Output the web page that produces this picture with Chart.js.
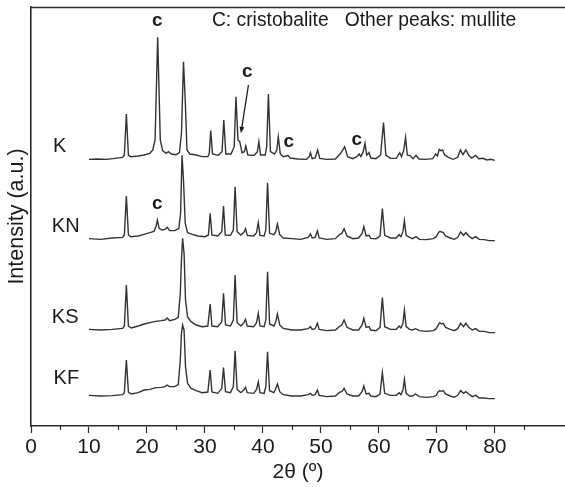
<!DOCTYPE html>
<html>
<head>
<meta charset="utf-8">
<script src="https://cdn.jsdelivr.net/npm/chart.js@4/dist/chart.umd.min.js"></script>
<style>
  html, body { margin: 0; padding: 0; background: #fff; }
  #wrap { width: 565px; height: 487px; overflow: hidden; }
</style>
</head>
<body>
<div id="wrap"><canvas id="xrd" width="565" height="487"></canvas></div>
<script>
// XRD patterns of the fired samples, stacked with vertical offsets (a.u.).
// Each pair is [2θ (°), intensity].
const K = [
  [10.0,800],[11.5,801],[13,800],[14.5,803],[15.8,806],[16.1,812],[16.45,936],[16.8,812],[17.2,808],
  [18.5,810],[19.5,813],[20.5,818],[21.0,828],[21.4,858],[21.85,1166],[22.3,858],[22.7,826],[23.3,818],
  [23.7,823],[24.2,816],[25.0,814],[25.6,820],[25.95,878],[26.3,1093],[26.6,978],[26.9,828],[27.4,816],
  [28.5,813],[29.5,808],[30.5,808],[30.75,818],[31.0,886],[31.3,816],[32.3,812],[32.95,823],[33.25,918],
  [33.6,816],[34.5,816],[35.05,838],[35.35,988],[35.7,858],[36.0,853],[36.4,820],[36.8,823],[37.05,840],
  [37.4,813],[38.5,812],[39.05,823],[39.3,853],[39.6,813],[40.4,813],[40.65,838],[40.95,996],[41.3,823],
  [42.0,816],[42.4,828],[42.65,868],[43.0,816],[43.5,808],[44.0,810],[44.3,812],[44.7,804],[46,801],
  [47.5,800],[48.0,808],[48.2,820],[48.5,802],[49.0,804],[49.45,828],[49.8,803],[51,800],[52.5,801],
  [53.3,816],[53.6,823],[54.1,838],[54.6,808],[55.5,802],[56.2,808],[56.6,816],[56.9,808],[57.3,823],
  [57.6,848],[57.9,813],[58.3,820],[58.6,804],[59.5,802],[60.3,813],[60.8,910],[61.2,813],[62.0,803],
  [63.0,803],[63.6,820],[63.9,808],[64.3,828],[64.6,866],[64.9,813],[65.5,810],[65.9,802],[66.4,812],
  [66.9,801],[68.0,800],[69.3,802],[69.8,816],[70.1,810],[70.4,830],[70.7,826],[71.0,828],[71.3,814],
  [72.0,806],[72.8,800],[73.6,806],[74.05,828],[74.5,814],[75.0,828],[75.5,812],[76.0,804],[76.7,812],
  [77.2,802],[78.0,803],[78.6,798],[79.3,800],[80.0,797]
];

const KN = [
  [10.0,562],[12,560],[14,564],[15.8,566],[16.1,572],[16.45,690],[16.8,573],[17.2,568],[18.5,570],
  [19.5,575],[20.5,580],[21.2,584],[21.55,598],[21.8,618],[22.1,593],[22.6,588],[23.1,590],[23.5,596],
  [23.9,586],[24.8,586],[25.5,593],[25.8,638],[26.05,812],[26.3,738],[26.6,608],[27.0,580],[27.8,575],
  [28.8,570],[30.0,568],[30.6,573],[30.9,638],[31.2,573],[32.2,570],[32.9,583],[33.2,660],[33.5,573],
  [34.4,572],[34.9,588],[35.2,718],[35.55,583],[36.2,573],[36.7,580],[37.0,592],[37.3,572],[38.4,570],
  [38.9,580],[39.2,610],[39.5,572],[40.2,570],[40.5,588],[40.8,730],[41.15,578],[41.9,574],[42.2,583],
  [42.5,606],[42.9,574],[43.5,564],[45,562],[46.5,560],[47.8,566],[48.2,576],[48.5,564],[49.0,566],
  [49.4,585],[49.7,564],[51,560],[52.5,562],[53.3,576],[53.6,578],[54.0,592],[54.5,570],[55.5,562],
  [56.5,564],[57.1,578],[57.4,598],[57.8,570],[58.3,572],[58.6,563],[59.5,562],[60.2,570],[60.6,652],
  [61.0,572],[62.0,564],[63.0,564],[63.5,574],[63.8,568],[64.15,583],[64.4,616],[64.7,572],[65.3,566],
  [65.8,562],[66.4,568],[67.0,560],[68.2,559],[69.4,562],[69.9,568],[70.2,578],[70.5,584],[70.8,582],
  [71.1,581],[71.5,570],[72.3,564],[73.0,560],[73.6,566],[74.1,582],[74.6,572],[75.0,580],[75.5,570],
  [76.1,562],[76.7,568],[77.3,560],[78.2,559],[79.0,556],[80.0,556]
];

const KS = [
  [10.0,290],[12,288],[14,290],[15.8,293],[16.1,300],[16.45,423],[16.8,300],[17.3,294],[18.5,300],
  [19.5,306],[20.5,310],[21.5,314],[22.5,316],[23.1,318],[23.5,324],[23.9,316],[24.8,320],[25.4,326],
  [25.75,398],[25.95,498],[26.15,563],[26.4,518],[26.65,378],[27.0,328],[27.6,313],[28.5,303],[29.5,298],
  [30.5,300],[30.9,366],[31.2,300],[32.2,298],[32.9,313],[33.2,398],[33.55,303],[34.4,300],[34.9,318],
  [35.2,453],[35.55,310],[36.2,300],[36.7,310],[37.0,320],[37.3,300],[38.4,298],[38.9,310],[39.2,338],
  [39.5,300],[40.2,298],[40.5,318],[40.8,463],[41.15,306],[41.9,300],[42.2,312],[42.5,336],[42.9,303],
  [43.5,293],[45,288],[46.5,288],[47.8,292],[48.2,298],[48.5,290],[49.0,292],[49.4,308],[49.7,290],
  [51,286],[52.5,288],[53.3,300],[53.6,303],[54.0,318],[54.5,296],[55.5,288],[56.5,288],[57.1,303],
  [57.4,323],[57.8,296],[58.3,298],[58.6,288],[59.5,286],[60.2,296],[60.6,385],[61.0,298],[62.0,290],
  [63.0,290],[63.5,300],[63.8,294],[64.15,308],[64.4,348],[64.7,298],[65.3,290],[65.8,288],[66.3,292],
  [67.0,286],[68.2,284],[69.4,286],[69.9,292],[70.2,302],[70.5,310],[70.8,306],[71.1,308],[71.5,296],
  [72.3,290],[73.0,286],[73.6,292],[74.1,308],[74.6,298],[75.0,308],[75.5,296],[76.1,288],[76.7,292],
  [77.3,284],[78.2,284],[79.0,280],[80.0,280]
];

const KF = [
  [10.0,92],[12,90],[14,91],[15.8,94],[16.1,100],[16.45,198],[16.8,102],[17.3,96],[18.5,100],
  [19.5,108],[20.5,110],[21.5,115],[22.5,116],[23.1,118],[23.5,123],[23.9,118],[24.8,118],[25.4,124],
  [25.75,198],[25.95,278],[26.15,303],[26.4,288],[26.65,178],[27.0,128],[27.6,113],[28.5,106],[29.5,100],
  [30.5,102],[30.9,168],[31.2,102],[32.2,98],[32.9,113],[33.2,175],[33.55,103],[34.4,100],[34.9,118],
  [35.2,226],[35.55,110],[36.2,100],[36.7,108],[37.0,116],[37.3,100],[38.4,98],[38.9,110],[39.2,132],
  [39.5,100],[40.2,98],[40.5,118],[40.8,223],[41.15,106],[41.9,100],[42.2,112],[42.5,126],[42.9,103],
  [43.5,94],[45,90],[46.5,90],[47.8,94],[48.2,98],[48.5,92],[49.0,94],[49.4,108],[49.7,92],
  [51,88],[52.5,90],[53.3,102],[53.6,103],[54.0,113],[54.5,96],[55.5,90],[56.5,90],[57.1,103],
  [57.4,120],[57.8,96],[58.3,98],[58.6,90],[59.5,88],[60.2,96],[60.6,160],[61.0,98],[62.0,92],
  [63.0,92],[63.5,100],[63.8,94],[64.15,108],[64.4,140],[64.7,98],[65.3,90],[65.8,90],[66.3,96],
  [67.0,88],[68.2,86],[69.4,88],[69.9,92],[70.2,102],[70.5,106],[70.8,104],[71.1,106],[71.5,96],
  [72.3,90],[73.0,86],[73.6,92],[74.1,106],[74.6,98],[75.0,103],[75.5,96],[76.1,88],[76.7,92],
  [77.3,84],[78.2,84],[79.0,82],[80.0,82]
];

const sampleNames = ['K', 'KN', 'KS', 'KF'];
const xTickValues = [0, 10, 20, 30, 40, 50, 60, 70, 80];
const xMinorTickValues = [5, 15, 25, 35, 45, 55, 65, 75, 85];

// Sample name labels placed in data coordinates [2θ, intensity]
const sampleLabelPos = [[3.8, 840], [3.6, 600], [3.6, 327], [3.9, 144]];
// Cristobalite markers [2θ, intensity]
const cristobaliteMarks = [[21.8, 1215], [37.3, 1063], [44.45, 853], [56.2, 860], [21.8, 666]];
// Arrow pointing at the cristobalite shoulder near 36°
const arrowFrom = [37.5, 1023];
const arrowTo = [36.2, 878];
const noteText = 'C: cristobalite   Other peaks: mullite';
const notePos = [31.2, 1215];

const FONT = '"Liberation Sans", Arial, Helvetica, sans-serif';
const INK = '#2b2b2b';

const decorations = {
  id: 'decorations',
  afterDraw(chart) {
    const { ctx, chartArea, scales: { x, y } } = chart;
    ctx.save();
    // top frame line
    ctx.strokeStyle = INK;
    ctx.lineWidth = 1.5;
    ctx.beginPath();
    ctx.moveTo(chartArea.left, chartArea.top + 0.5);
    ctx.lineTo(chartArea.right, chartArea.top + 0.5);
    ctx.stroke();

    // minor ticks on the 2θ axis
    ctx.lineWidth = 1.2;
    xMinorTickValues.forEach(v => {
      const px = Math.round(x.getPixelForValue(v)) + 0.5;
      ctx.beginPath();
      ctx.moveTo(px, chartArea.bottom);
      ctx.lineTo(px, chartArea.bottom + 4);
      ctx.stroke();
    });

    // sample names
    ctx.fillStyle = '#1a1a1a';
    ctx.font = '20px ' + FONT;
    ctx.textAlign = 'left';
    ctx.textBaseline = 'middle';
    sampleNames.forEach((name, i) => {
      const [a, b] = sampleLabelPos[i];
      ctx.fillText(name, x.getPixelForValue(a), y.getPixelForValue(b));
    });

    // phase note
    ctx.font = '19.3px ' + FONT;
    ctx.fillText(noteText, x.getPixelForValue(notePos[0]), y.getPixelForValue(notePos[1]));

    // cristobalite markers
    ctx.font = 'bold 19px ' + FONT;
    ctx.textAlign = 'center';
    cristobaliteMarks.forEach(([a, b]) => {
      ctx.fillText('c', x.getPixelForValue(a), y.getPixelForValue(b));
    });

    // arrow
    const x0 = x.getPixelForValue(arrowFrom[0]), y0 = y.getPixelForValue(arrowFrom[1]);
    const x1 = x.getPixelForValue(arrowTo[0]), y1 = y.getPixelForValue(arrowTo[1]);
    const ang = Math.atan2(y1 - y0, x1 - x0);
    const head = 7;
    ctx.strokeStyle = '#1a1a1a';
    ctx.lineWidth = 1.3;
    ctx.beginPath();
    ctx.moveTo(x0, y0);
    ctx.lineTo(x1 - Math.cos(ang) * head * 0.8, y1 - Math.sin(ang) * head * 0.8);
    ctx.stroke();
    ctx.beginPath();
    ctx.moveTo(x1, y1);
    ctx.lineTo(x1 - head * Math.cos(ang - 0.35), y1 - head * Math.sin(ang - 0.35));
    ctx.lineTo(x1 - head * Math.cos(ang + 0.35), y1 - head * Math.sin(ang + 0.35));
    ctx.closePath();
    ctx.fill();
    ctx.restore();
  }
};

const toPoints = arr => arr.map(([a, b]) => ({ x: a, y: b }));

new Chart(document.getElementById('xrd'), {
  type: 'line',
  data: {
    datasets: [K, KN, KS, KF].map((series, i) => ({
      label: sampleNames[i],
      data: toPoints(series),
      borderColor: '#333333',
      borderWidth: 1.4,
      pointRadius: 0,
      tension: 0,
      fill: false
    }))
  },
  options: {
    responsive: false,
    animation: false,
    devicePixelRatio: 1,
    layout: { padding: { top: 7, right: 0, left: 0, bottom: 0 } },
    plugins: { legend: { display: false }, tooltip: { enabled: false } },
    scales: {
      x: {
        type: 'linear',
        min: 0,
        max: 92.1,
        afterBuildTicks: s => { s.ticks = xTickValues.map(v => ({ value: v })); },
        afterFit: s => { s.height = 61; },
        ticks: { color: '#1a1a1a', font: { family: FONT, size: 21 }, padding: 2, maxRotation: 0, autoSkip: false },
        grid: { drawOnChartArea: false, tickLength: 7, tickColor: INK, tickWidth: 1.2 },
        border: { color: INK, width: 1.6 },
        title: { display: true, text: '2θ (º)', color: '#1a1a1a', font: { family: FONT, size: 21 }, padding: { top: 0, bottom: 2 } }
      },
      y: {
        min: 0,
        max: 1257,
        afterFit: s => { s.width = 31; },
        ticks: { display: false },
        grid: { display: false },
        border: { display: true, color: INK, width: 1.6 },
        title: { display: true, text: 'Intensity (a.u.)', color: '#1a1a1a', font: { family: FONT, size: 21.5 }, padding: { top: 4, bottom: 0 } }
      }
    }
  },
  plugins: [decorations]
});
</script>
</body>
</html>
